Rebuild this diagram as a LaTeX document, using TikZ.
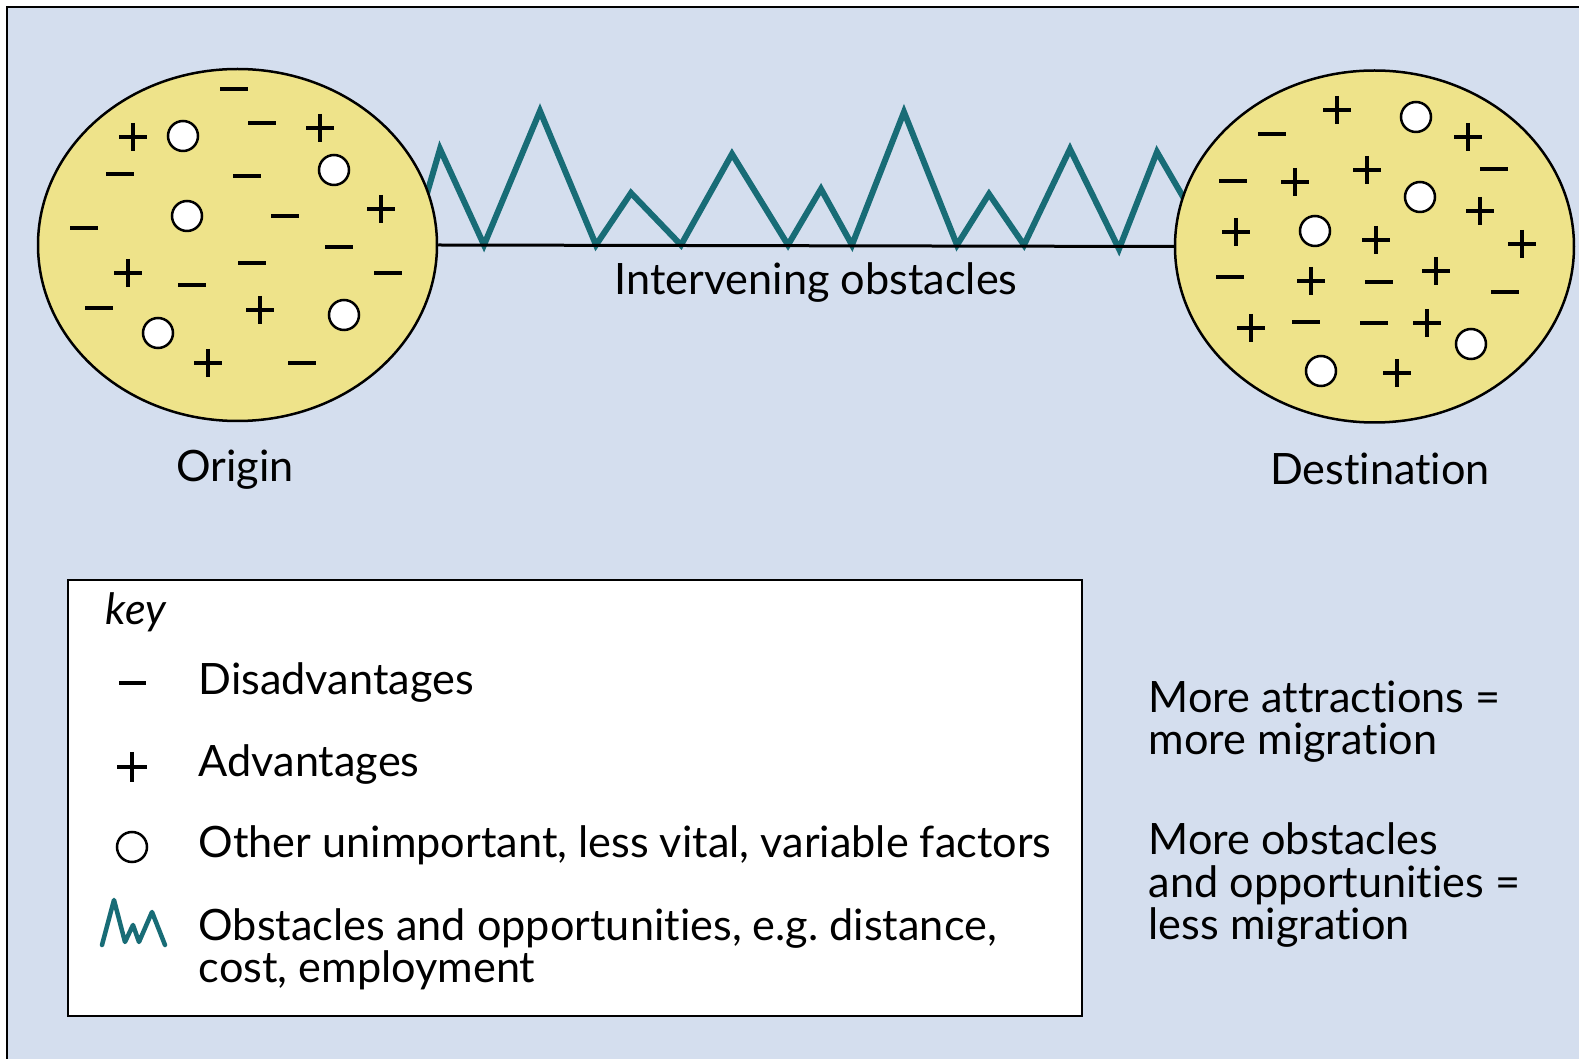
\documentclass[tikz,border=0pt]{standalone}
\usepackage{fontspec}
\setmainfont{Lato}[Ligatures=NoCommon]
\usepackage{tikz}
\usetikzlibrary{shapes.geometric,calc}
\definecolor{paper}{RGB}{212,222,238}
\definecolor{sand}{RGB}{238,227,138}
\definecolor{zigteal}{RGB}{24,108,118}
\tikzset{
  place/.style={ellipse, draw, line width=0.25mm, fill=sand, inner sep=0pt, minimum width=39.9mm, minimum height=35.2mm},
  sign/.style={line width=0.42mm},
  spot/.style={draw, line width=0.25mm, fill=white},
  zig/.style={draw=zigteal, line width=0.6mm},
  lbl/.style={font=\fontsize{12.3}{12.2}\selectfont, inner sep=0pt}
}

\begin{document}
\begin{tikzpicture}[x=0.1mm, y=-0.1mm]

\fill[white] (0,0) rectangle (1579,1059);
\useasboundingbox (0,0) rectangle (1579,1059);
\fill[paper] (7,7) rectangle (1579,1059);
\draw[line width=0.25mm] (7,1059) -- (7,7) -- (1579,7);

% obstacles between the two places
\draw[zig] (412,245) -- (440,149) -- (484,245) -- (540,111) -- (596,245) -- (631,193) -- (681,245) -- (732,154)
  -- (788,245) -- (821,189) -- (852,245) -- (904,112) -- (957,245) -- (989,194) -- (1024,245) -- (1070,149)
  -- (1119,249) -- (1157,152) -- (1211,245);

\node[place] (origin) at (237.5,245) {};
\node[place] (dest) at (1374.5,246.5) {};
\draw[line width=0.3mm] (origin.east) -- (dest.west);

% origin
\foreach \x/\y in {234/89,262/123,120/174,247/176,285/216,84/228,339/247,252/263,192/285,388/273,99/308,302/363}
  \draw[sign] (\x-14,\y) -- ++(28,0);
\foreach \x/\y in {133/137,320/128,381/209,128/273,260/310,208/363}
  \draw[sign] (\x-14,\y) -- ++(28,0) (\x,\y-14) -- ++(0,28);
\foreach \x/\y in {183/136,334/170,187/216,344/315,158/333}
  \draw[spot] (\x,\y) circle (15);

% destination
\foreach \x/\y in {1272/134,1494/169,1233/181,1230/277,1379/282,1505/292,1306/322,1374/323}
  \draw[sign] (\x-14,\y) -- ++(28,0);
\foreach \x/\y in {1337/110,1468/137,1367/170,1295/182,1480/211,1236/232,1376/240,1522/244,1311/281,1436/271,1251/328,1427/323,1397/373}
  \draw[sign] (\x-14,\y) -- ++(28,0) (\x,\y-14) -- ++(0,28);
\foreach \x/\y in {1416/117,1420/197,1315/231,1471/344,1321/371}
  \draw[spot] (\x,\y) circle (15);

\node[lbl] (gap) at (816,283) {Intervening obstacles};
\node[lbl] (lorigin) at (235,470) {Origin};
\node[lbl] (ldest) at (1380,469) {Destination};

% key
\draw[line width=0.25mm, fill=white] (68,580) rectangle (1082,1016);
\node[lbl, anchor=base west] (keyhead) at (105,625) {\itshape key};
\draw[sign] (119,683) -- (146,683);
\node[lbl, anchor=base west] (kminus) at (198,695) {Disadvantages};
\draw[sign] (117,767) -- (147,767) (132,752) -- (132,782);
\node[lbl, anchor=base west] (kplus) at (198,777) {Advantages};
\draw[spot] (132,847) circle (15);
\node[lbl, anchor=base west] (kspot) at (198,858) {Other unimportant, less vital, variable factors};
\draw[zig, line join=round, line cap=round, line width=0.45mm] (102,945) -- (114,900) -- (125,942) -- (133,925) -- (139,942) -- (152,912) -- (165,945);
\node[lbl, anchor=base west, align=left] (kzig) at (198,983) {Obstacles and opportunities, e.g.\ distance,\\cost, employment};

\node[lbl, anchor=base west, align=left] (note1) at (1148,755) {More attractions =\\more migration};
\node[lbl, anchor=base west, align=left] (note2) at (1148,940) {More obstacles\\and opportunities =\\less migration};

\end{tikzpicture}
\end{document}
